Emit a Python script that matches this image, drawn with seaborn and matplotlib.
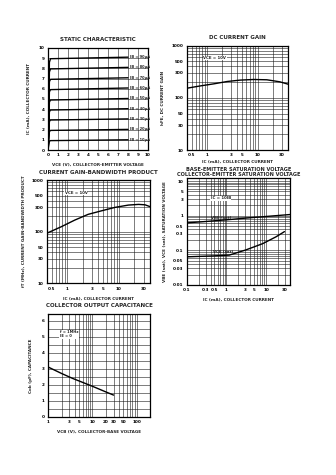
import matplotlib
matplotlib.use("Agg")
import matplotlib.pyplot as plt
import seaborn as sns
import pandas as pd
import numpy as np
from matplotlib.ticker import FixedLocator, NullFormatter, FixedFormatter

# ---------------- data ----------------
# Static characteristic
vce_static = [0.0, 0.08, 0.14, 0.25, 8.0]
ib_labels = ["IB = 10µA", "IB = 20µA", "IB = 30µA", "IB = 40µA", "IB = 50µA",
             "IB = 60µA", "IB = 70µA", "IB = 80µA", "IB = 90µA"]
ic_10 = [0.0, 0.5, 0.85, 0.92, 1.00]
ic_20 = [0.0, 1.0, 1.80, 1.92, 2.02]
ic_30 = [0.0, 1.5, 2.80, 2.94, 3.05]
ic_40 = [0.0, 2.0, 3.75, 3.92, 4.05]
ic_50 = [0.0, 2.5, 4.70, 4.90, 5.05]
ic_60 = [0.0, 3.0, 5.70, 5.92, 6.08]
ic_70 = [0.0, 3.5, 6.70, 6.93, 7.08]
ic_80 = [0.0, 4.0, 7.65, 7.95, 8.10]
ic_90 = [0.0, 4.5, 8.60, 8.95, 9.10]
static_ticks = [0, 1, 2, 3, 4, 5, 6, 7, 8, 9, 10]

# DC current gain
ic_gain = [0.42, 0.76, 1.39, 2.53, 4.6, 8.4, 15.3, 27.6, 40.0]
hfe = [154, 170, 186, 206, 219, 225, 222, 203, 183]

# Gain-bandwidth product
ic_ft = [0.42, 0.76, 1.39, 2.53, 4.6, 8.4, 15.3, 24.0, 32.0, 40.0]
ft = [95, 124, 167, 216, 253, 295, 327, 337, 331, 305]

ic_ticks = [0.5, 1, 3, 5, 10, 30]
ic_ticklabels = ["0.5", "1", "3", "5", "10", "30"]
gain_yticks = [10, 30, 50, 100, 300, 500, 1000]
gain_ylabels = ["10", "30", "50", "100", "300", "500", "1000"]

# Saturation voltages
ic_vbe = [0.1, 0.3, 1.0, 3.0, 10.0, 40.0]
vbe_sat = [0.62, 0.68, 0.76, 0.85, 0.95, 1.08]
ic_vce = [0.1, 0.45, 1.19, 3.1, 8.2, 17.8, 29.0]
vce_sat = [0.065, 0.069, 0.073, 0.103, 0.156, 0.246, 0.347]
sat_xticks = [0.1, 0.3, 0.5, 1, 3, 5, 10, 30]
sat_xlabels = ["0.1", "0.3", "0.5", "1", "3", "5", "10", "30"]
sat_yticks = [0.01, 0.03, 0.05, 0.1, 0.3, 0.5, 1, 3, 5, 10]
sat_ylabels = ["0.01", "0.03", "0.05", "0.1", "0.3", "0.5", "1", "3", "5", "10"]

# Output capacitance
vcb = [1.0, 2.0, 3.5, 10.0, 20.0, 30.0]
cob = [3.1, 2.7, 2.4, 1.9, 1.55, 1.35]
cap_xticks = [1, 3, 5, 10, 20, 30, 50, 100]
cap_xlabels = ["1", "3", "5", "10", "20", "30", "50", "100"]
cap_yticks = [0, 1, 2, 3, 4, 5, 6]

# ---------------- style ----------------
sns.set_theme(style="white")
plt.rcParams["font.family"] = ["DejaVu Sans"]
plt.rcParams["font.weight"] = "bold"

W, H = 336, 475
fig = plt.figure(figsize=(W / 100, H / 100), dpi=100)
fig.patch.set_facecolor("white")

TICK_FS = 3.0
LAB_FS = 3.0
TIT_FS = 4.0
GRID_KW = dict(color="#1a1a1a", lw=0.4)
CURVE_KW = dict(color="black", linewidth=1.0)


def box(l, r, t, b):
    return [l / W, (H - b) / H, (r - l) / W, (b - t) / H]


def style_axes(ax):
    for s in ax.spines.values():
        s.set_color("black")
        s.set_linewidth(0.9)
    ax.tick_params(which="both", length=0, pad=2.5, labelsize=TICK_FS, colors="black")
    for lab in ax.get_xticklabels() + ax.get_yticklabels():
        lab.set_fontweight("bold")
    ax.set_axisbelow(True)


def minor_log(lo_exp, hi_exp):
    return [m * 10.0 ** e for e in range(lo_exp, hi_exp + 1) for m in range(2, 10)]


def log_axis(axis, ticks, labels, lo_exp, hi_exp):
    axis.set_major_locator(FixedLocator(ticks))
    axis.set_major_formatter(FixedFormatter(labels))
    axis.set_minor_locator(FixedLocator(minor_log(lo_exp, hi_exp)))
    axis.set_minor_formatter(NullFormatter())


# ---------- Panel 1: static characteristic ----------
ax1 = fig.add_axes(box(48, 148, 48, 150))
static_df = pd.DataFrame({
    "vce": vce_static * 9,
    "ic": ic_10 + ic_20 + ic_30 + ic_40 + ic_50 + ic_60 + ic_70 + ic_80 + ic_90,
    "ib": [lab for lab in ib_labels for _ in vce_static],
})
sns.lineplot(data=static_df, x="vce", y="ic", units="ib", estimator=None,
             ax=ax1, legend=False, **CURVE_KW)
curves = [ic_10, ic_20, ic_30, ic_40, ic_50, ic_60, ic_70, ic_80, ic_90]
for lab, c in zip(ib_labels, curves):
    ax1.text(8.25, c[-1], lab, fontsize=2.6, fontweight="bold", va="center", ha="left")
ax1.set_xlim(0, 10)
ax1.set_ylim(0, 10)
ax1.set_xticks(static_ticks)
ax1.set_yticks(static_ticks)
ax1.grid(True, **GRID_KW)
ax1.set_xlabel("VCE (V), COLLECTOR-EMITTER VOLTAGE", fontsize=LAB_FS, fontweight="bold", labelpad=4)
ax1.set_ylabel("IC (mA), COLLECTOR CURRENT", fontsize=LAB_FS, fontweight="bold", labelpad=6)
ax1.set_title("STATIC CHARACTERISTIC", fontsize=TIT_FS, fontweight="bold", pad=5)
style_axes(ax1)

# ---------- Panel 2: DC current gain ----------
ax2 = fig.add_axes(box(186.7, 288, 45.7, 150))
sns.lineplot(x=ic_gain, y=hfe, ax=ax2, **CURVE_KW)
ax2.set_xscale("log")
ax2.set_yscale("log")
ax2.set_xlim(0.4, 40)
ax2.set_ylim(10, 1000)
log_axis(ax2.xaxis, ic_ticks, ic_ticklabels, -1, 1)
log_axis(ax2.yaxis, gain_yticks, gain_ylabels, 1, 2)
ax2.grid(True, which="both", **GRID_KW)
ax2.text(0.85, 580, "VCE = 10V", fontsize=2.8, fontweight="bold", va="center",
         bbox=dict(facecolor="white", edgecolor="none", pad=0.3))
ax2.set_xlabel("IC (mA), COLLECTOR CURRENT", fontsize=LAB_FS, fontweight="bold", labelpad=2)
ax2.set_ylabel("hFE, DC CURRENT GAIN", fontsize=LAB_FS, fontweight="bold", labelpad=5)
ax2.set_title("DC CURRENT GAIN", fontsize=TIT_FS, fontweight="bold", pad=5)
style_axes(ax2)

# ---------- Panel 3: gain-bandwidth product ----------
ax3 = fig.add_axes(box(46.7, 150, 180, 283.3))
sns.lineplot(x=ic_ft, y=ft, ax=ax3, **CURVE_KW)
ax3.set_xscale("log")
ax3.set_yscale("log")
ax3.set_xlim(0.4, 40)
ax3.set_ylim(10, 1000)
log_axis(ax3.xaxis, ic_ticks, ic_ticklabels, -1, 1)
log_axis(ax3.yaxis, gain_yticks, gain_ylabels, 1, 2)
ax3.grid(True, which="both", **GRID_KW)
ax3.text(0.9, 560, "VCE = 10V", fontsize=2.8, fontweight="bold", va="center",
         bbox=dict(facecolor="white", edgecolor="none", pad=0.3))
ax3.set_xlabel("IC (mA), COLLECTOR CURRENT", fontsize=LAB_FS, fontweight="bold", labelpad=4)
ax3.set_ylabel("fT (MHz), CURRENT GAIN-BANDWIDTH PRODUCT", fontsize=LAB_FS, fontweight="bold", labelpad=4)
ax3.set_title("CURRENT GAIN-BANDWIDTH PRODUCT", fontsize=TIT_FS, fontweight="bold", pad=4)
style_axes(ax3)

# ---------- Panel 4: saturation voltages ----------
ax4 = fig.add_axes(box(186.7, 290, 178.3, 285))
sns.lineplot(x=ic_vbe, y=vbe_sat, ax=ax4, **CURVE_KW)
sns.lineplot(x=ic_vce, y=vce_sat, ax=ax4, **CURVE_KW)
ax4.set_xscale("log")
ax4.set_yscale("log")
ax4.set_xlim(0.1, 40)
ax4.set_ylim(0.01, 12)
log_axis(ax4.xaxis, sat_xticks, sat_xlabels, -1, 1)
log_axis(ax4.yaxis, sat_yticks, sat_ylabels, -2, 0)
ax4.grid(True, which="both", **GRID_KW)
ax4.text(0.4, 3.2, "IC = 10IB", fontsize=2.8, fontweight="bold", va="center",
         bbox=dict(facecolor="white", edgecolor="none", pad=0.3))
ax4.text(0.4, 0.85, "VBE (sat)", fontsize=2.8, fontweight="bold", va="center")
ax4.text(0.45, 0.09, "VCE (sat)", fontsize=2.8, fontweight="bold", va="center")
ax4.set_xlabel("IC (mA), COLLECTOR CURRENT", fontsize=LAB_FS, fontweight="bold", labelpad=4)
ax4.set_ylabel("VBE (sat), VCE (sat), SATURATION VOLTAGE", fontsize=LAB_FS, fontweight="bold", labelpad=4)
ax4.set_title("BASE-EMITTER SATURATION VOLTAGE\nCOLLECTOR-EMITTER SATURATION VOLTAGE",
              fontsize=3.6, fontweight="bold", pad=1.5, linespacing=0.95)
style_axes(ax4)

# ---------- Panel 5: output capacitance ----------
ax5 = fig.add_axes(box(48.3, 150, 314.3, 416.7))
sns.lineplot(x=vcb, y=cob, ax=ax5, **CURVE_KW)
ax5.set_xscale("log")
ax5.set_xlim(1, 200)
ax5.set_ylim(0, 6.4)
log_axis(ax5.xaxis, cap_xticks, cap_xlabels, 0, 2)
ax5.set_yticks(cap_yticks)
ax5.yaxis.set_minor_locator(FixedLocator([0.5, 1.5, 2.5, 3.5, 4.5, 5.5]))
ax5.grid(True, which="both", **GRID_KW)
ax5.text(1.8, 5.15, "f = 1MHz\nIE = 0", fontsize=2.6, fontweight="bold", va="center",
         linespacing=1.1, bbox=dict(facecolor="white", edgecolor="none", pad=0.3))
ax5.set_xlabel("VCB (V), COLLECTOR-BASE VOLTAGE", fontsize=LAB_FS, fontweight="bold", labelpad=4)
ax5.set_ylabel("Cob (pF), CAPACITANCE", fontsize=LAB_FS, fontweight="bold", labelpad=6)
ax5.set_title("COLLECTOR OUTPUT CAPACITANCE", fontsize=TIT_FS, fontweight="bold", pad=5)
style_axes(ax5)

fig.savefig("out.png", dpi=100, facecolor="white")
